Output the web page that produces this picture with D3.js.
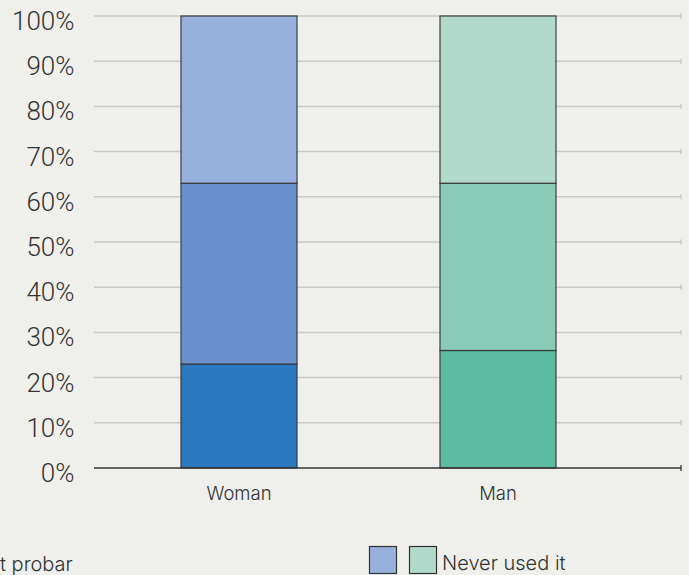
<!DOCTYPE html>
<html><head><meta charset="utf-8">
<script src="https://cdn.jsdelivr.net/npm/d3@7"></script>
<style>
html,body{margin:0;padding:0;background:#efefeb;}
svg{display:block;font-family:Inter,"Noto Sans",sans-serif;}
</style></head>
<body>
<svg id="c" width="689" height="575"></svg>
<script>
const categories = ["Woman", "Man"];
const seriesBottom = [23, 26];
const seriesMiddle = [40, 37];
const seriesTop = [37, 37];
const yTicks = [0, 10, 20, 30, 40, 50, 60, 70, 80, 90, 100];
const colorsWoman = ["#2b79c0", "#6990cb", "#97b0dc"];
const colorsMan = ["#5bbca1", "#8acbb7", "#b1dacc"];
const legendLabels = ["t probar", "Never used it"];

const svg = d3.select("#c");
const x = d3.scaleBand().domain(categories).range([109.5, 627.5]).paddingInner(0.552).paddingOuter(0.276);
const y = d3.scaleLinear().domain([0, 100]).range([468, 16]);
const xL = 94, xR = 681;

// gridlines
svg.append("g").selectAll("line").data(yTicks.filter(d => d > 0)).join("line")
  .attr("x1", xL).attr("x2", xR).attr("y1", d => y(d)).attr("y2", d => y(d))
  .attr("stroke", "#cbc9c5").attr("stroke-width", 1.5);
svg.append("g").selectAll("line").data(yTicks.filter(d => d > 0)).join("line")
  .attr("x1", xR).attr("x2", xR).attr("y1", d => y(d) - 2.5).attr("y2", d => y(d) + 2.5)
  .attr("stroke", "#cbc9c5").attr("stroke-width", 1.5);

// y tick labels
svg.append("g").selectAll("text").data(yTicks).join("text")
  .attr("x", 74.5).attr("y", d => y(d) + 14)
  .attr("text-anchor", "end").attr("font-family", "Roboto").attr("font-size", 26).attr("font-weight", 300)
  .attr("fill", "#333").text(d => d + "%");

// stacked bars
const rows = categories.map((c, i) => ({cat: c, a: seriesBottom[i], b: seriesMiddle[i], c: seriesTop[i]}));
const stack = d3.stack().keys(["a", "b", "c"])(rows);
const palettes = [colorsWoman, colorsMan];
stack.forEach((layer, li) => {
  svg.append("g").selectAll("rect").data(layer).join("rect")
    .attr("x", d => x(d.data.cat)).attr("width", x.bandwidth())
    .attr("y", d => y(d[1])).attr("height", d => y(d[0]) - y(d[1]))
    .attr("fill", (d, i) => palettes[i][li])
    .attr("stroke", "#333").attr("stroke-opacity", 0.85).attr("stroke-width", 1.3);
});

// x axis
svg.append("line").attr("x1", xL).attr("x2", xR).attr("y1", y(0)).attr("y2", y(0))
  .attr("stroke", "#333").attr("stroke-width", 1.3);
svg.append("line").attr("x1", xR).attr("x2", xR).attr("y1", y(0) - 3).attr("y2", y(0) + 3)
  .attr("stroke", "#333").attr("stroke-width", 1.3);
svg.append("g").selectAll("text").data(categories).join("text")
  .attr("x", d => x(d) + x.bandwidth() / 2).attr("y", 500)
  .attr("text-anchor", "middle").attr("font-size", 18.5).attr("font-weight", 300)
  .attr("fill", "#333").text(d => d);

// legend
svg.append("text").attr("x", 0).attr("y", 571).attr("text-anchor", "start")
  .attr("font-size", 20).attr("font-weight", 300)
  .attr("fill", "#333").text(legendLabels[0]);
svg.append("rect").attr("x", 369.5).attr("y", 546.5).attr("width", 27).attr("height", 27)
  .attr("fill", colorsWoman[2]).attr("stroke", "#333").attr("stroke-width", 1.2);
svg.append("rect").attr("x", 409.5).attr("y", 546.5).attr("width", 27).attr("height", 27)
  .attr("fill", colorsMan[2]).attr("stroke", "#333").attr("stroke-width", 1.2);
svg.append("text").attr("x", 442).attr("y", 570).attr("font-size", 20).attr("font-weight", 300)
  .attr("fill", "#333").text(legendLabels[1]);
</script>
</body></html>
